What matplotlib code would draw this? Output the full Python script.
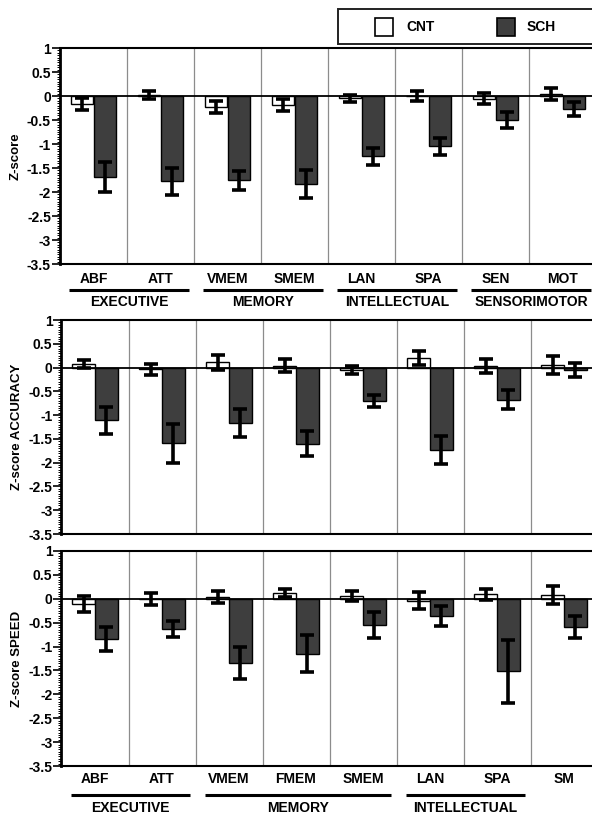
import matplotlib

matplotlib.use("Agg")
import matplotlib.pyplot as plt  # noqa: E402
import numpy as np  # noqa: E402
from matplotlib.patches import Rectangle  # noqa: E402
from matplotlib.ticker import MultipleLocator  # noqa: E402

plt.rcParams["font.family"] = ["Liberation Sans", "DejaVu Sans"]
plt.rcParams["font.weight"] = "bold"

# Panel 1: overall z-score
cats1 = ["ABF", "ATT", "VMEM", "SMEM", "LAN", "SPA", "SEN", "MOT"]
cnt1 = [-0.17, 0.02, -0.22, -0.19, -0.05, 0.00, -0.06, 0.05]
cnt1_err = [0.13, 0.08, 0.125, 0.125, 0.08, 0.10, 0.115, 0.125]
sch1 = [-1.69, -1.78, -1.76, -1.83, -1.26, -1.05, -0.50, -0.28]
sch1_err = [0.31, 0.29, 0.19, 0.29, 0.18, 0.17, 0.165, 0.145]
groups1 = [("EXECUTIVE", 0, 1), ("MEMORY", 2, 3),
           ("INTELLECTUAL", 4, 5), ("SENSORIMOTOR", 6, 7)]

# Panel 2: accuracy z-score (same domains as panel 1)
cnt2 = [0.07, -0.04, 0.11, 0.04, -0.05, 0.20, 0.03, 0.05]
cnt2_err = [0.085, 0.12, 0.16, 0.14, 0.09, 0.15, 0.14, 0.195]
sch2 = [-1.11, -1.59, -1.17, -1.60, -0.71, -1.73, -0.68, -0.05]
sch2_err = [0.28, 0.41, 0.29, 0.27, 0.125, 0.29, 0.20, 0.145]

# Panel 3: speed z-score
cats3 = ["ABF", "ATT", "VMEM", "FMEM", "SMEM", "LAN", "SPA", "SM"]
cnt3 = [-0.11, 0.00, 0.04, 0.13, 0.05, -0.04, 0.09, 0.08]
cnt3_err = [0.165, 0.13, 0.12, 0.085, 0.105, 0.18, 0.115, 0.19]
sch3 = [-0.85, -0.64, -1.34, -1.15, -0.55, -0.36, -1.52, -0.59]
sch3_err = [0.25, 0.165, 0.335, 0.385, 0.28, 0.21, 0.655, 0.23]
groups3 = [("EXECUTIVE", 0, 1), ("MEMORY", 2, 4), ("INTELLECTUAL", 5, 6)]

W, H = 592, 818
SCH_COLOR = "#3e3e3e"
FS = 10


def draw_panel(top_px, bot_px, left_px, cnt, cnt_err, sch, sch_err, ylabel):
    h_px = bot_px - top_px
    ax = fig.add_axes([left_px / W, 1 - bot_px / H, 536 / W, h_px / H])
    n = len(cnt)
    x = np.arange(n)
    ax.bar(x + 0.33, cnt, width=0.335, color="white", edgecolor="black",
           linewidth=1.0, zorder=2)
    ax.bar(x + 0.67, sch, width=0.335, color=SCH_COLOR, edgecolor="black",
           linewidth=1.0, zorder=2)
    ax.errorbar(x + 0.33, cnt, yerr=cnt_err, fmt="none", ecolor="black",
                elinewidth=2.6, capsize=5.3, capthick=2.6, zorder=4)
    ax.errorbar(x + 0.67, sch, yerr=sch_err, fmt="none", ecolor="black",
                elinewidth=2.6, capsize=5.3, capthick=2.6, zorder=4)
    for b in range(1, n):
        ax.axvline(b, color="#8c8c8c", linewidth=0.9, zorder=1)
    ax.axhline(0, color="black", linewidth=1.3, zorder=3)
    ax.set_xlim(0, n)
    ax.set_ylim(-3.5, 1)
    yt = np.arange(-3.5, 1.01, 0.5)
    ax.set_yticks(yt)
    ax.set_yticklabels([f"{v:g}" for v in yt], fontsize=FS, fontweight="bold")
    ax.yaxis.set_minor_locator(MultipleLocator(0.05))
    ax.tick_params(axis="y", which="major", length=5.5, width=1.2, pad=1)
    ax.tick_params(axis="y", which="minor", length=2.5, width=0.7)
    ax.set_xticks([])
    ax.spines["right"].set_visible(False)
    ax.spines["left"].set_linewidth(2.0)
    ax.spines["top"].set_linewidth(1.5)
    ax.spines["bottom"].set_linewidth(1.5)
    ax.set_ylabel(ylabel, fontsize=9.5, fontweight="bold", labelpad=4)
    return ax, h_px


def label_row(ax, h_px, cats, groups, dy_cat, dy_line, dy_grp):
    tr = ax.get_xaxis_transform()
    for i, c in enumerate(cats):
        ax.text(i + 0.5, -dy_cat / h_px, c, transform=tr, ha="center",
                va="center", fontsize=FS, fontweight="bold")
    for name, a, b in groups:
        x0, x1 = a + 0.14, b + 1 - 0.08
        ax.plot([x0, x1], [-dy_line / h_px] * 2, transform=tr, color="black",
                linewidth=2.2, clip_on=False, solid_capstyle="butt")
        ax.text((x0 + x1) / 2, -dy_grp / h_px, name, transform=tr,
                ha="center", va="center", fontsize=FS, fontweight="bold")


fig = plt.figure(figsize=(W / 100, H / 100), dpi=100)

ax1, h1 = draw_panel(48, 264, 60, cnt1, cnt1_err, sch1, sch1_err, "Z-score")
label_row(ax1, h1, cats1, groups1, 15, 26, 38)

ax2, h2 = draw_panel(320, 534, 61.5, cnt2, cnt2_err, sch2, sch2_err,
                     "Z-score ACCURACY")

ax3, h3 = draw_panel(551, 766, 61.5, cnt3, cnt3_err, sch3, sch3_err,
                     "Z-score SPEED")
label_row(ax3, h3, cats3, groups3, 13, 29, 42)

# legend box at the top right
lax = fig.add_axes([337 / W, 1 - 45 / H, 263 / W, 37 / H])
lax.set_xlim(0, 263)
lax.set_ylim(0, 37)
lax.axis("off")
lax.add_patch(Rectangle((0.8, 0.8), 261, 35.4, facecolor="white",
                        edgecolor="#222222", linewidth=1.4))
lax.add_patch(Rectangle((38, 9), 18, 18, facecolor="white",
                        edgecolor="black", linewidth=1.2))
lax.add_patch(Rectangle((160, 9), 18, 18, facecolor=SCH_COLOR,
                        edgecolor="black", linewidth=1.2))
lax.text(69, 18, "CNT", ha="left", va="center", fontsize=FS, fontweight="bold")
lax.text(190, 18, "SCH", ha="left", va="center", fontsize=FS, fontweight="bold")

fig.savefig("out.png", dpi=100)
